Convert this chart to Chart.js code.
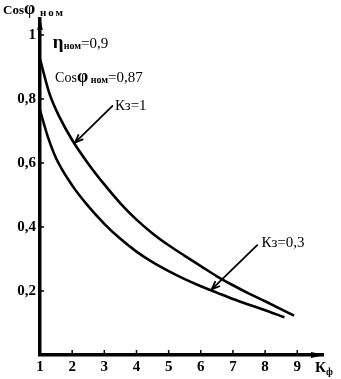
<!DOCTYPE html>
<html>
<head>
<meta charset="utf-8">
<script src="https://cdn.jsdelivr.net/npm/chart.js@4/dist/chart.umd.min.js"></script>
<style>
  html, body { margin: 0; padding: 0; background: #fff; }
  #wrap { width: 341px; height: 379px; }
</style>
</head>
<body>
<div id="wrap"><canvas id="c" width="341" height="379"></canvas></div>
<script>
// Form factor Kф (x) and nominal power factor cos φ (y)
const kfFull = [1, 1.3, 1.6, 2, 2.5, 3, 3.5, 4, 4.5, 5, 5.5, 6, 6.5, 7, 7.5, 8, 8.9];
const cosFull = [0.925, 0.815, 0.745, 0.672, 0.598, 0.533, 0.474, 0.423, 0.38, 0.343, 0.31, 0.278, 0.246, 0.218, 0.192, 0.168, 0.123];

const kfPart = [1, 1.25, 1.5, 2, 2.5, 3, 3.5, 4, 4.5, 5, 5.5, 6, 6.5, 7, 7.5, 8, 8.6];
const cosPart = [0.765, 0.68, 0.615, 0.53, 0.465, 0.41, 0.363, 0.323, 0.29, 0.262, 0.237, 0.215, 0.195, 0.175, 0.157, 0.14, 0.118];

const xTickValues = [1, 2, 3, 4, 5, 6, 7, 8, 9];
const yTickValues = [0.2, 0.4, 0.6, 0.8, 1];
const yTickLabels = ['0,2', '0,4', '0,6', '0,8', '1'];

const SERIF = '"Liberation Serif", "DejaVu Serif", serif';

function toPoints(xs, ys) { return xs.map((x, i) => ({ x: x, y: ys[i] })); }

// Text made of runs: [text, font, baseline shift, letter spacing]
function drawRuns(ctx, x, y, runs) {
  let cx = x;
  runs.forEach(([t, font, dy, ls]) => {
    ctx.font = font;
    ctx.letterSpacing = ls || '0px';
    ctx.fillText(t, cx, y + (dy || 0));
    cx += ctx.measureText(t).width;
  });
  ctx.letterSpacing = '0px';
}

function arrow(ctx, x1, y1, x2, y2) {
  ctx.beginPath();
  ctx.moveTo(x1, y1);
  ctx.lineTo(x2, y2);
  ctx.stroke();
  const a = Math.atan2(y2 - y1, x2 - x1);
  const L = 9, w = 0.38;
  ctx.beginPath();
  ctx.moveTo(x2 - L * Math.cos(a - w), y2 - L * Math.sin(a - w));
  ctx.lineTo(x2, y2);
  ctx.lineTo(x2 - L * Math.cos(a + w), y2 - L * Math.sin(a + w));
  ctx.stroke();
}

const decorations = {
  id: 'decorations',
  afterDraw(chart) {
    const ctx = chart.ctx;
    const xs = chart.scales.x, ys = chart.scales.y;
    const area = chart.chartArea;
    const X = v => xs.getPixelForValue(v);
    const Y = v => ys.getPixelForValue(v);
    ctx.save();
    ctx.fillStyle = '#000';
    ctx.strokeStyle = '#000';

    // axis arrowheads
    ctx.beginPath();
    ctx.moveTo(area.left, area.top - 2);
    ctx.lineTo(area.left - 2.8, area.top + 11);
    ctx.lineTo(area.left + 2.8, area.top + 11);
    ctx.closePath();
    ctx.fill();
    ctx.beginPath();
    ctx.moveTo(area.right + 2, area.bottom);
    ctx.lineTo(area.right - 12, area.bottom - 3);
    ctx.lineTo(area.right - 12, area.bottom + 3);
    ctx.closePath();
    ctx.fill();

    // small inner tick marks
    ctx.lineWidth = 1.5;
    xTickValues.slice(1).forEach(v => {
      ctx.beginPath();
      ctx.moveTo(X(v), area.bottom);
      ctx.lineTo(X(v), area.bottom - 5);
      ctx.stroke();
    });
    yTickValues.forEach(v => {
      ctx.beginPath();
      ctx.moveTo(area.left, Y(v));
      ctx.lineTo(area.left + 4, Y(v));
      ctx.stroke();
    });

    // axis titles
    ctx.textBaseline = 'alphabetic';
    ctx.textAlign = 'left';
    drawRuns(ctx, 3, area.top - 5, [
      ['Cos', 'bold 13px ' + SERIF, 0],
      ['φ', 'bold 18px ' + SERIF, 0],
      [' ном', 'bold 11px ' + SERIF, 2, '2px']
    ]);
    drawRuns(ctx, area.right - 8, area.bottom + 17, [
      ['К', 'bold 15px ' + SERIF, 0],
      ['ф', 'bold 10px ' + SERIF, 3]
    ]);

    // parameters of the motor
    drawRuns(ctx, X(1.40), Y(0.96), [
      ['η', 'bold 19px ' + SERIF, 0],
      ['ном', 'bold 10px ' + SERIF, 1],
      ['=0,9', '15px ' + SERIF, 0]
    ]);
    drawRuns(ctx, X(1.47), Y(0.853), [
      ['Cos', '14px ' + SERIF, 0],
      ['φ', 'bold 18px ' + SERIF, 0],
      [' ном', 'bold 10px ' + SERIF, 1],
      ['=0,87', '15px ' + SERIF, 0]
    ]);

    // load factor captions with pointers
    drawRuns(ctx, X(3.33), Y(0.766), [['Кз=1', '15px ' + SERIF, 0]]);
    drawRuns(ctx, X(7.89), Y(0.338), [['Кз=0,3', '15px ' + SERIF, 0]]);
    ctx.lineWidth = 1.8;
    arrow(ctx, X(3.27), Y(0.78), X(2.09), Y(0.664));
    arrow(ctx, X(7.77), Y(0.345), X(6.34), Y(0.205));

    ctx.restore();
  }
};

new Chart(document.getElementById('c'), {
  type: 'line',
  data: {
    datasets: [
      {
        label: 'Кз=1',
        data: toPoints(kfFull, cosFull),
        borderColor: '#000',
        borderWidth: 2.6,
        pointRadius: 0,
        cubicInterpolationMode: 'monotone',
        fill: false
      },
      {
        label: 'Кз=0,3',
        data: toPoints(kfPart, cosPart),
        borderColor: '#000',
        borderWidth: 2.6,
        pointRadius: 0,
        cubicInterpolationMode: 'monotone',
        fill: false
      }
    ]
  },
  options: {
    responsive: false,
    animation: false,
    devicePixelRatio: 1,
    layout: { padding: { left: 0, top: 19, right: 18, bottom: 0 } },
    plugins: { legend: { display: false }, tooltip: { enabled: false } },
    scales: {
      x: {
        type: 'linear',
        min: 1,
        max: 9.8,
        afterFit(s) { s.height = 24; },
        afterBuildTicks(s) { s.ticks = xTickValues.map(v => ({ value: v })); },
        grid: { display: false, drawTicks: false },
        border: { display: true, color: '#000', width: 3.5 },
        ticks: {
          padding: 3,
          color: '#000',
          font: { family: SERIF, size: 15, weight: 'bold' },
          maxRotation: 0,
          autoSkip: false
        }
      },
      y: {
        type: 'linear',
        min: 0,
        max: 1.05,
        afterFit(s) { s.width = 40; },
        afterBuildTicks(s) { s.ticks = yTickValues.map(v => ({ value: v })); },
        grid: { display: false, drawTicks: false },
        border: { display: true, color: '#000', width: 3.5 },
        ticks: {
          padding: 4,
          color: '#000',
          font: { family: SERIF, size: 15, weight: 'bold' },
          callback(v) {
            const i = yTickValues.indexOf(v);
            return i >= 0 ? yTickLabels[i] : '';
          }
        }
      }
    }
  },
  plugins: [decorations]
});
</script>
</body>
</html>
